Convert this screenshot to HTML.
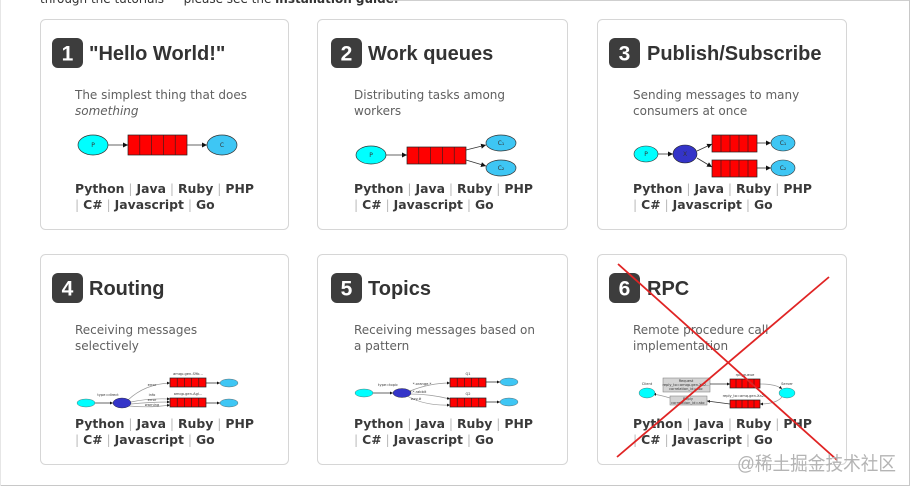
<!DOCTYPE html>
<html><head><meta charset="utf-8"><style>
html,body{margin:0;padding:0;background:#fff;}
svg{display:block;}
.t{font-family:"Liberation Sans",Arial,sans-serif;font-weight:bold;font-size:20px;fill:#333;}
.bd{font-family:"Liberation Sans",Arial,sans-serif;font-weight:bold;font-size:21px;fill:#fff;text-anchor:middle;}
.d{font-family:"DejaVu Sans",Verdana,sans-serif;font-size:12px;fill:#606060;}
.lk{font-family:"DejaVu Sans",Verdana,sans-serif;font-weight:bold;font-size:12.4px;fill:#3a3a3a;}
.sp{font-weight:normal;fill:#bbb;}
.n{font-family:"DejaVu Sans",sans-serif;font-size:6px;fill:#333;text-anchor:middle;}
.tiny{font-family:"DejaVu Sans",sans-serif;font-size:3.6px;fill:#333;text-anchor:middle;}
.q{fill:#f00;stroke:#222;stroke-width:.7;}
.ql{stroke:#222;stroke-width:.6;}
.ar{stroke:#333;stroke-width:.8;fill:none;}
.ar2{stroke:#999;stroke-width:.7;fill:none;}
.card{fill:#fff;stroke:#d6d6d6;stroke-width:1;}
.top{font-family:"DejaVu Sans",Verdana,sans-serif;font-size:12px;fill:#333;}
</style></head><body>
<svg width="913" height="490" viewBox="0 0 913 490" xmlns="http://www.w3.org/2000/svg">
<defs>
<marker id="a" viewBox="0 0 10 10" refX="10" refY="5" markerWidth="5" markerHeight="5" markerUnits="userSpaceOnUse" orient="auto"><path d="M0,0L10,5L0,10z" fill="#111"/></marker>
<marker id="s" viewBox="0 0 10 10" refX="10" refY="5" markerWidth="3" markerHeight="3" markerUnits="userSpaceOnUse" orient="auto"><path d="M0,0L10,5L0,10z" fill="#111"/></marker>
</defs>
<rect x="0" y="0" width="913" height="490" fill="#fff"/>
<!-- frame -->
<line x1="390" y1="0.5" x2="910" y2="0.5" stroke="#cfcfcf"/>
<line x1="909.5" y1="0" x2="909.5" y2="486" stroke="#c8c8c8"/>
<line x1="0" y1="485.5" x2="910" y2="485.5" stroke="#c8c8c8"/>
<line x1="0.5" y1="0" x2="0.5" y2="486" stroke="#e6e6e6"/>
<!-- top cut text -->
<text class="top" x="40" y="3">through the tutorials — please see the <tspan font-weight="bold">installation guide.</tspan></text>

<!-- cards -->
<rect class="card" x="40.5" y="19.5" width="248" height="210" rx="5"/>
<rect class="card" x="317.5" y="19.5" width="250" height="210" rx="5"/>
<rect class="card" x="597.5" y="19.5" width="249" height="210" rx="5"/>
<rect class="card" x="40.5" y="254.5" width="248" height="210" rx="5"/>
<rect class="card" x="317.5" y="254.5" width="250" height="210" rx="5"/>
<rect class="card" x="597.5" y="254.5" width="249" height="210" rx="5"/>

<!-- badges & titles row 1 -->
<rect x="52" y="38" width="31" height="30" rx="6" fill="#3d3d3d"/>
<text class="bd" x="67.5" y="60.5">1</text>
<text class="t" x="89" y="60">"Hello World!"</text>
<rect x="331" y="38" width="31" height="30" rx="6" fill="#3d3d3d"/>
<text class="bd" x="346.5" y="60.5">2</text>
<text class="t" x="368" y="60">Work queues</text>
<rect x="609" y="38" width="31" height="30" rx="6" fill="#3d3d3d"/>
<text class="bd" x="624.5" y="60.5">3</text>
<text class="t" x="647" y="60">Publish/Subscribe</text>
<!-- row 2 -->
<rect x="52" y="273" width="31" height="30" rx="6" fill="#3d3d3d"/>
<text class="bd" x="67.5" y="295.5">4</text>
<text class="t" x="89" y="295">Routing</text>
<rect x="331" y="273" width="31" height="30" rx="6" fill="#3d3d3d"/>
<text class="bd" x="346.5" y="295.5">5</text>
<text class="t" x="368" y="295">Topics</text>
<rect x="609" y="273" width="31" height="30" rx="6" fill="#3d3d3d"/>
<text class="bd" x="624.5" y="295.5">6</text>
<text class="t" x="647" y="295">RPC</text>

<!-- descriptions -->
<text class="d" x="75" y="99">The simplest thing that does</text>
<text class="d" x="75" y="115" font-style="italic">something</text>
<text class="d" x="354" y="99">Distributing tasks among</text>
<text class="d" x="354" y="115">workers</text>
<text class="d" x="633" y="99">Sending messages to many</text>
<text class="d" x="633" y="115">consumers at once</text>
<text class="d" x="75" y="334">Receiving messages</text>
<text class="d" x="75" y="350">selectively</text>
<text class="d" x="354" y="334">Receiving messages based on</text>
<text class="d" x="354" y="350">a pattern</text>
<text class="d" x="633" y="334">Remote procedure call</text>
<text class="d" x="633" y="350">implementation</text>

<!-- links -->
<g class="lk">
<text class="lk" x="75" y="193">Python<tspan class="sp"> | </tspan>Java<tspan class="sp"> | </tspan>Ruby<tspan class="sp"> | </tspan>PHP</text>
<text class="lk" x="75" y="209"><tspan class="sp">| </tspan>C#<tspan class="sp"> | </tspan>Javascript<tspan class="sp"> | </tspan>Go</text>
<text class="lk" x="354" y="193">Python<tspan class="sp"> | </tspan>Java<tspan class="sp"> | </tspan>Ruby<tspan class="sp"> | </tspan>PHP</text>
<text class="lk" x="354" y="209"><tspan class="sp">| </tspan>C#<tspan class="sp"> | </tspan>Javascript<tspan class="sp"> | </tspan>Go</text>
<text class="lk" x="633" y="193">Python<tspan class="sp"> | </tspan>Java<tspan class="sp"> | </tspan>Ruby<tspan class="sp"> | </tspan>PHP</text>
<text class="lk" x="633" y="209"><tspan class="sp">| </tspan>C#<tspan class="sp"> | </tspan>Javascript<tspan class="sp"> | </tspan>Go</text>
<text class="lk" x="75" y="428">Python<tspan class="sp"> | </tspan>Java<tspan class="sp"> | </tspan>Ruby<tspan class="sp"> | </tspan>PHP</text>
<text class="lk" x="75" y="444"><tspan class="sp">| </tspan>C#<tspan class="sp"> | </tspan>Javascript<tspan class="sp"> | </tspan>Go</text>
<text class="lk" x="354" y="428">Python<tspan class="sp"> | </tspan>Java<tspan class="sp"> | </tspan>Ruby<tspan class="sp"> | </tspan>PHP</text>
<text class="lk" x="354" y="444"><tspan class="sp">| </tspan>C#<tspan class="sp"> | </tspan>Javascript<tspan class="sp"> | </tspan>Go</text>
<text class="lk" x="633" y="428">Python<tspan class="sp"> | </tspan>Java<tspan class="sp"> | </tspan>Ruby<tspan class="sp"> | </tspan>PHP</text>
<text class="lk" x="633" y="444"><tspan class="sp">| </tspan>C#<tspan class="sp"> | </tspan>Javascript<tspan class="sp"> | </tspan>Go</text>
</g>

<!-- Diagram 1 -->
<line class="ar" x1="108" y1="145" x2="128" y2="145" marker-end="url(#a)"/>
<line class="ar" x1="187" y1="145" x2="207" y2="145" marker-end="url(#a)"/>
<ellipse cx="93" cy="145" rx="15" ry="10" fill="#00ffff" stroke="#333" stroke-width=".7"/>
<text class="n" x="93" y="147">P</text>
<rect class="q" x="128" y="135" width="59" height="20"/>
<path class="ql" d="M139.8,135v20M151.6,135v20M163.4,135v20M175.2,135v20"/>
<ellipse cx="222" cy="145" rx="15" ry="10" fill="#3ec6f4" stroke="#333" stroke-width=".7"/>
<text class="n" x="222" y="147">C</text>

<!-- Diagram 2 -->
<line class="ar" x1="386" y1="155" x2="407" y2="155" marker-end="url(#a)"/>
<line class="ar" x1="466" y1="150" x2="486" y2="145" marker-end="url(#a)"/>
<line class="ar" x1="466" y1="160" x2="486" y2="166" marker-end="url(#a)"/>
<ellipse cx="371" cy="155" rx="15" ry="9" fill="#00ffff" stroke="#333" stroke-width=".7"/>
<text class="n" x="371" y="157" font-size="5">P</text>
<rect class="q" x="407" y="147" width="59" height="17"/>
<path class="ql" d="M418.8,147v17M430.6,147v17M442.4,147v17M454.2,147v17"/>
<ellipse cx="501" cy="143" rx="15" ry="8" fill="#3ec6f4" stroke="#333" stroke-width=".7"/>
<ellipse cx="501" cy="168" rx="15" ry="8" fill="#3ec6f4" stroke="#333" stroke-width=".7"/>
<text class="n" x="501" y="145" font-size="5">C₁</text>
<text class="n" x="501" y="170" font-size="5">C₂</text>

<!-- Diagram 3 -->
<line class="ar" x1="658" y1="154" x2="673" y2="154" marker-end="url(#a)"/>
<line class="ar" x1="697" y1="151" x2="712" y2="144" marker-end="url(#a)"/>
<line class="ar" x1="697" y1="158" x2="712" y2="167" marker-end="url(#a)"/>
<line class="ar" x1="757" y1="143" x2="771" y2="143" marker-end="url(#a)"/>
<line class="ar" x1="757" y1="168" x2="771" y2="168" marker-end="url(#a)"/>
<ellipse cx="646" cy="154" rx="12" ry="8" fill="#00ffff" stroke="#333" stroke-width=".6"/>
<text class="n" x="646" y="156" font-size="5">P</text>
<ellipse cx="685" cy="154" rx="12" ry="9" fill="#3434c8" stroke="#222" stroke-width=".6"/>
<text class="n" x="685" y="156" font-size="5">X</text>
<rect class="q" x="712" y="135" width="45" height="17"/>
<path class="ql" d="M721,135v17M730,135v17M739,135v17M748,135v17"/>
<rect class="q" x="712" y="160" width="45" height="17"/>
<path class="ql" d="M721,160v17M730,160v17M739,160v17M748,160v17"/>
<ellipse cx="783" cy="143" rx="12" ry="8" fill="#3ec6f4" stroke="#333" stroke-width=".6"/>
<ellipse cx="783" cy="168" rx="12" ry="8" fill="#3ec6f4" stroke="#333" stroke-width=".6"/>
<text class="n" x="783" y="145" font-size="4.5">C₁</text>
<text class="n" x="783" y="170" font-size="4.5">C₂</text>

<!-- Diagram 4 -->
<line class="ar" x1="95" y1="403" x2="113" y2="403" marker-end="url(#s)"/>
<path class="ar2" d="M128,400 Q145,384 170,383" marker-end="url(#s)"/>
<path class="ar2" d="M131,402 Q150,398 170,399" marker-end="url(#s)"/>
<path class="ar2" d="M131,404 Q150,402 170,402" marker-end="url(#s)"/>
<path class="ar2" d="M129,406 Q150,408 170,405" marker-end="url(#s)"/>
<line class="ar" x1="206" y1="383" x2="220" y2="383" marker-end="url(#s)"/>
<line class="ar" x1="206" y1="403" x2="220" y2="403" marker-end="url(#s)"/>
<ellipse cx="86" cy="403" rx="9" ry="4" fill="#00ffff" stroke="#555" stroke-width=".4"/>
<ellipse cx="122" cy="403" rx="9" ry="5" fill="#3434c8" stroke="#222" stroke-width=".4"/>
<rect class="q" x="170" y="378" width="36" height="9"/>
<path class="ql" d="M177.2,378v9M184.4,378v9M191.6,378v9M198.8,378v9"/>
<rect class="q" x="170" y="398" width="36" height="9"/>
<path class="ql" d="M177.2,398v9M184.4,398v9M191.6,398v9M198.8,398v9"/>
<ellipse cx="229" cy="383" rx="9" ry="4" fill="#3ec6f4" stroke="#555" stroke-width=".4"/>
<ellipse cx="229" cy="403" rx="9" ry="4" fill="#3ec6f4" stroke="#555" stroke-width=".4"/>
<text class="tiny" x="188" y="375">amqp.gen-S9b...</text>
<text class="tiny" x="188" y="395">amqp.gen-Agl...</text>
<text class="tiny" x="108" y="396">type=direct</text>
<text class="tiny" x="152" y="386">error</text>
<text class="tiny" x="152" y="396">info</text>
<text class="tiny" x="152" y="401">error</text>
<text class="tiny" x="152" y="406">warning</text>

<!-- Diagram 5 -->
<line class="ar" x1="373" y1="393" x2="393" y2="393" marker-end="url(#s)"/>
<path class="ar2" d="M410,391 Q430,383 450,383" marker-end="url(#s)"/>
<path class="ar2" d="M410,394 Q430,394 450,399" marker-end="url(#s)"/>
<path class="ar2" d="M407,396 Q425,406 450,405" marker-end="url(#s)"/>
<line class="ar" x1="486" y1="382" x2="500" y2="382" marker-end="url(#s)"/>
<line class="ar" x1="486" y1="402" x2="500" y2="402" marker-end="url(#s)"/>
<ellipse cx="364" cy="393" rx="9" ry="4" fill="#00ffff" stroke="#555" stroke-width=".4"/>
<ellipse cx="402" cy="393" rx="9" ry="4.5" fill="#3434c8" stroke="#222" stroke-width=".4"/>
<rect class="q" x="450" y="378" width="36" height="9"/>
<path class="ql" d="M457.2,378v9M464.4,378v9M471.6,378v9M478.8,378v9"/>
<rect class="q" x="450" y="398" width="36" height="9"/>
<path class="ql" d="M457.2,398v9M464.4,398v9M471.6,398v9M478.8,398v9"/>
<ellipse cx="509" cy="382" rx="9" ry="4" fill="#3ec6f4" stroke="#555" stroke-width=".4"/>
<ellipse cx="509" cy="402" rx="9" ry="4" fill="#3ec6f4" stroke="#555" stroke-width=".4"/>
<text class="tiny" x="468" y="375">Q1</text>
<text class="tiny" x="468" y="395">Q2</text>
<text class="tiny" x="388" y="386">type=topic</text>
<text class="tiny" x="422" y="385">*.orange.*</text>
<text class="tiny" x="418" y="393">*.*.rabbit</text>
<text class="tiny" x="416" y="400">lazy.#</text>

<!-- Diagram 6 -->
<rect x="663" y="378" width="47" height="14" fill="#d4d4d4" stroke="#777" stroke-width=".5"/>
<rect x="670" y="396" width="37" height="9" fill="#d4d4d4" stroke="#777" stroke-width=".5"/>
<text class="tiny" x="686" y="382">Request</text>
<text class="tiny" x="686" y="386">reply_to=amqp.gen-Xa2...</text>
<text class="tiny" x="686" y="390">correlation_id=abc</text>
<text class="tiny" x="688" y="400">Reply</text>
<text class="tiny" x="688" y="404">correlation_id=abc</text>
<line class="ar" x1="710" y1="384" x2="730" y2="384" marker-end="url(#s)"/>
<path class="ar2" d="M760,384 Q776,384 782,389" marker-end="url(#s)"/>
<path class="ar2" d="M782,397 Q776,404 760,404" marker-end="url(#s)"/>
<line class="ar" x1="730" y1="404" x2="707" y2="401" marker-end="url(#s)"/>
<path class="ar2" d="M670,398 Q660,395 653,394" marker-end="url(#s)"/>
<rect class="q" x="730" y="379" width="30" height="9"/>
<path class="ql" d="M736,379v9M742,379v9M748,379v9M754,379v9"/>
<rect class="q" x="730" y="400" width="30" height="8"/>
<path class="ql" d="M736,400v8M742,400v8M748,400v8M754,400v8"/>
<ellipse cx="647" cy="393" rx="8" ry="5" fill="#00ffff" stroke="#555" stroke-width=".4"/>
<ellipse cx="787" cy="393" rx="8" ry="5" fill="#00ffff" stroke="#555" stroke-width=".4"/>
<text class="tiny" x="647" y="385">Client</text>
<text class="tiny" x="787" y="385">Server</text>
<text class="tiny" x="745" y="376">rpc_queue</text>
<text class="tiny" x="745" y="397">reply_to=amq.gen-Xa2...</text>

<!-- red X -->
<line x1="618" y1="264" x2="837" y2="460" stroke="#e02424" stroke-width="1.8"/>
<line x1="829" y1="277" x2="617" y2="457" stroke="#e02424" stroke-width="1.8"/>

<!-- watermark -->
<text x="737" y="470" font-family="'Liberation Sans','Noto Sans CJK SC',sans-serif" font-size="19" fill="#b4b4b4" textLength="159" lengthAdjust="spacingAndGlyphs">@稀土掘金技术社区</text>
</svg>
</body></html>
